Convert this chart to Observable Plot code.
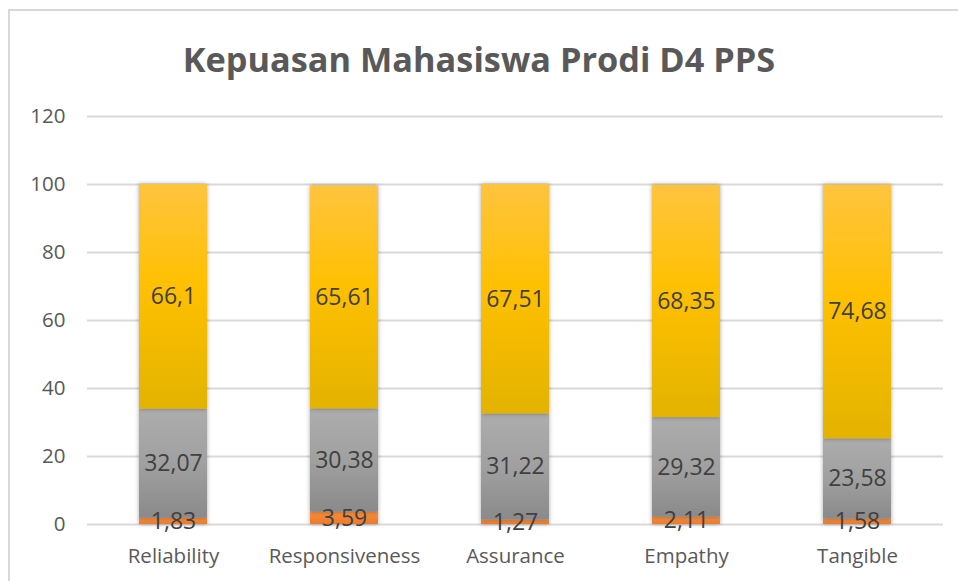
<!DOCTYPE html>
<html>
<head>
<meta charset="utf-8">
<script src="https://cdn.jsdelivr.net/npm/d3@7"></script>
<script src="https://cdn.jsdelivr.net/npm/@observablehq/plot@0.6"></script>
<style>
  html, body { margin: 0; padding: 0; background: #fff; }
  #wrap { position: relative; width: 958px; height: 581px; overflow: hidden; font-family: "Open Sans", sans-serif; }
  #frame { position: absolute; left: 8px; top: 9px; width: 960px; height: 580px; border-top: 2px solid #D9D9D9; border-left: 2px solid #D9D9D9; }
  #title { position: absolute; left: 0; top: 34px; width: 958px; text-align: center; font-size: 34.3px; font-weight: bold; color: #595959; line-height: 50px; }
  #chart { position: absolute; left: 0; top: 100px; }
  g[aria-label="bar"] rect { filter: drop-shadow(0 0 2px rgba(0,0,0,0.35)); }
</style>
</head>
<body>
<div id="wrap">
  <div id="frame"></div>
  <div id="title">Kepuasan Mahasiswa Prodi D4 PPS</div>
  <div id="chart"></div>
</div>
<script>
const categories = ["Reliability", "Responsiveness", "Assurance", "Empathy", "Tangible"];
const seriesOrange = [1.83, 3.59, 1.27, 2.11, 1.58];
const seriesGray = [32.07, 30.38, 31.22, 29.32, 23.58];
const seriesYellow = [66.1, 65.61, 67.51, 68.35, 74.68];
const yTicks = [0, 20, 40, 60, 80, 100, 120];

const seriesList = [
  {key: "orange", values: seriesOrange, fill: "url(#gOrange)"},
  {key: "gray", values: seriesGray, fill: "url(#gGray)"},
  {key: "yellow", values: seriesYellow, fill: "url(#gYellow)"}
];

const rows = [];
categories.forEach((c, i) => {
  let base = 0;
  seriesList.forEach(s => {
    const v = s.values[i];
    rows.push({cat: c, series: s.key, value: v, y1: base, y2: base + v, mid: base + v / 2, fill: s.fill});
    base += v;
  });
});

const fmt = v => String(v).replace(".", ",");

const svg = Plot.plot({
  width: 958,
  height: 481,
  marginTop: 16,
  marginBottom: 57,
  marginLeft: 87,
  marginRight: 15,
  style: {fontFamily: "Open Sans, sans-serif", background: "transparent"},
  x: {domain: categories, paddingInner: 0.605, paddingOuter: 0.3025, label: null, tickSize: 0, tickPadding: 22},
  y: {domain: [0, 120], ticks: yTicks, label: null, tickSize: 0, tickPadding: 22},
  color: {type: "identity"},
  marks: [
    Plot.ruleY(yTicks, {stroke: "#D9D9D9", strokeWidth: 2}),
    Plot.barY(rows, {x: "cat", y1: "y1", y2: "y2", fill: "fill"}),
    Plot.text(rows, {x: "cat", y: "mid", text: d => fmt(d.value), fill: "#404040", fontSize: 23}),
    Plot.axisX({tickSize: 0, tickPadding: 24, fontSize: 20.5, color: "#595959"}),
    Plot.axisY({ticks: yTicks, tickSize: 0, tickPadding: 22, fontSize: 20.5, color: "#595959"})
  ]
});

d3.select(svg).insert("defs", ":first-child").html(`
  <linearGradient id="gYellow" x1="0" y1="0" x2="0" y2="1">
    <stop offset="0%" stop-color="#FFC43F"/>
    <stop offset="45%" stop-color="#FFC000"/>
    <stop offset="100%" stop-color="#E3B300"/>
  </linearGradient>
  <linearGradient id="gGray" x1="0" y1="0" x2="0" y2="1">
    <stop offset="0%" stop-color="#ADADAD"/>
    <stop offset="50%" stop-color="#A0A0A0"/>
    <stop offset="100%" stop-color="#8A8A8A"/>
  </linearGradient>
  <linearGradient id="gOrange" x1="0" y1="0" x2="0" y2="1">
    <stop offset="0%" stop-color="#F7913F"/>
    <stop offset="100%" stop-color="#EC7A2C"/>
  </linearGradient>
`);

document.getElementById("chart").appendChild(svg);
</script>
</body>
</html>
